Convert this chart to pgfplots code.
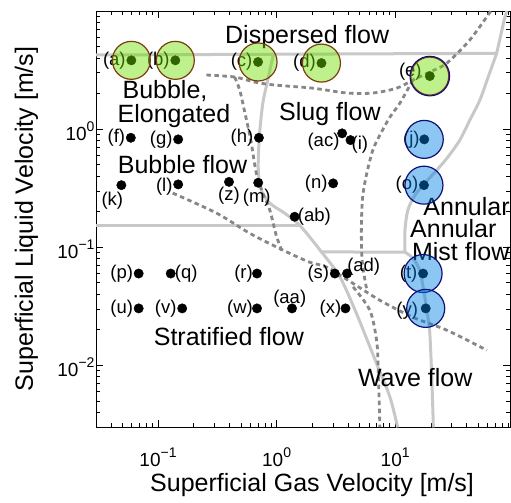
\documentclass[border=0pt]{standalone}
\usepackage{fontspec}
\setmainfont{Liberation Sans}
\usepackage{pgfplots}
\pgfplotsset{compat=1.18}
\definecolor{solidgray}{RGB}{200,200,200}
\definecolor{dashgray}{RGB}{135,135,135}
\definecolor{gfill}{rgb}{0.433,0.869,0.0}
\definecolor{bfill}{rgb}{0.0,0.5,0.9}
\definecolor{brownedge}{RGB}{125,60,15}
\definecolor{navyedge}{RGB}{15,15,120}
\newcommand\tsup[1]{\raisebox{9bp}{\fontsize{14bp}{16bp}\selectfont #1}}
\tikzset{
  lab/.style={font=\fontsize{18.5bp}{22bp}\selectfont, inner sep=0pt},
  L/.style={lab, anchor=east, xshift=-5.5bp},
  R/.style={lab, anchor=west, xshift=3bp},
  ann/.style={font=\fontsize{25bp}{30bp}\selectfont, inner sep=0pt, anchor=center},
  sol/.style={solidgray, line width=3bp},
  dsh/.style={dashgray, line width=2.8bp, dash pattern=on 4.5bp off 3.5bp},
}
\begin{document}
\begin{tikzpicture}[x=1bp,y=1bp]
\begin{axis}[
  at={(96bp,76bp)}, anchor=south west,
  scale only axis, width=414bp, height=416bp,
  xmode=log, ymode=log,
  xmin=0.03, xmax=93, ymin=0.003, ymax=10,
  clip mode=individual,
  xtick={0.1,1,10},
  xticklabels={{10\tsup{−1}},{10\tsup{0}},{10\tsup{1}}},
  ytick={0.01,0.1,1},
  yticklabels={{10\tsup{−2}},{10\tsup{−1}},{10\tsup{0}}},
  minor xtick={0.04,0.05,0.06,0.07,0.08,0.09,0.2,0.3,0.4,0.5,0.6,0.7,0.8,0.9,2,3,4,5,6,7,8,9,20,30,40,50,60,70,80,90},
  minor ytick={0.004,0.005,0.006,0.007,0.008,0.009,0.02,0.03,0.04,0.05,0.06,0.07,0.08,0.09,0.2,0.3,0.4,0.5,0.6,0.7,0.8,0.9,2,3,4,5,6,7,8,9},
  major tick length=7bp, minor tick length=4bp,
  tick style={black, line width=0.6bp},
  axis line style={black, line width=0.8bp},
  tick label style={font=\fontsize{19bp}{22bp}\selectfont},
  xticklabel style={yshift=-17bp},
  yticklabel style={xshift=2bp, yshift=-2bp},
  xlabel={Superficial Gas Velocity [m/s]},
  ylabel={Superficial Liquid Velocity [m/s]},
  xlabel style={at={(axis description cs:0.522,-0.140)}, anchor=center, font=\fontsize{25bp}{30bp}\selectfont},
  ylabel style={at={(axis description cs:-0.168,0.5)}, anchor=center, font=\fontsize{25bp}{30bp}\selectfont},
]
% solid boundaries
\addplot[sol, no marks] coordinates {(0.03,4.24) (71.8,4.38) (84.3,8.95) (87.7,10)};
\addplot[sol, no marks, smooth, tension=0.5] coordinates {(71.8,4.38) (60.5,2.71) (51.8,1.76) (42.6,1.19) (35.1,0.807) (27.8,0.579) (22.5,0.450) (17.8,0.349) (14.7,0.276) (12.8,0.206) (12.1,0.139) (12.1,0.0907)};
\addplot[sol, no marks] coordinates {(12.1,0.0907) (2.32,0.0912)};
\addplot[sol, no marks, smooth, tension=0.5] coordinates {(0.937,4.24) (0.843,2.60) (0.766,1.66) (0.715,0.855) (0.701,0.450) (0.743,0.304) (0.877,0.236) (1.17,0.194) (1.57,0.153) (2.39,0.0912) (3.42,0.0560) (4.72,0.0274) (6.97,0.01034) (9.03,0.00539) (10.5,0.00298)};
\addplot[sol, no marks] coordinates {(0.03,0.153) (1.57,0.153)};
\addplot[sol, no marks, smooth, tension=0.5] coordinates {(12.1,0.0907) (14.1,0.0807) (16.1,0.0638) (17.4,0.0432) (18.8,0.0265) (19.6,0.0187) (20.4,0.00746) (21.0,0.00298)};
% dashed boundaries
\addplot[dsh, no marks, smooth, tension=0.5] coordinates {(0.256,2.87) (0.443,2.76) (0.654,2.50) (0.966,2.36) (2.02,2.22) (3.91,2.02) (6.47,2.02) (10.3,2.22) (14.1,2.60) (19.6,3.04) (27.3,3.62) (42.6,5.68) (64.1,10)};
\addplot[dsh, no marks, smooth, tension=0.5] coordinates {(0.443,2.76) (0.489,2.14) (0.539,1.39) (0.606,0.807) (0.674,0.424) (0.766,0.287) (0.877,0.206) (0.998,0.124) (1.13,0.0889)};
\addplot[dsh, no marks, smooth, tension=0.5] coordinates {(0.133,0.287) (0.313,0.194) (0.594,0.131) (1.13,0.0944) (1.90,0.0746) (2.65,0.0677) (4.39,0.0495) (7.43,0.0355) (14.1,0.0255) (27.3,0.0198) (59.4,0.0134)};
\addplot[dsh, no marks, smooth, tension=0.5] coordinates {(14.1,2.60) (10.97,1.66) (9.02,1.26) (7.43,0.889) (6.48,0.664) (5.77,0.424) (5.34,0.276) (5.20,0.170) (5.20,0.100) (5.34,0.0677) (5.77,0.0432)};
\addplot[dsh, no marks, smooth, tension=0.5] coordinates {(4.42,0.0461) (6.12,0.0292) (6.97,0.0163) (7.19,0.00968) (7.43,0.00300)};
% data points
\addplot[only marks, mark=*, mark size=4.7bp, black] coordinates {
(0.0596,3.82) (0.140,3.82) (0.698,3.70) (2.39,3.62) (19.6,2.81)
(0.059,0.844) (0.148,0.818) (0.71,0.844) (4.20,0.807) (3.57,0.920) (17.6,0.818)
(0.0491,0.335) (0.148,0.340) (0.397,0.357) (0.70,0.351) (3.0,0.347) (17.5,0.335)
(1.42,0.181)
(0.0687,0.0598) (0.128,0.0598) (0.684,0.0598) (3.10,0.0598) (3.93,0.0598) (17.2,0.0598)
(0.0687,0.0303) (0.160,0.0303) (0.684,0.0303) (1.35,0.0303) (3.81,0.0303) (18.1,0.0303)};
% point labels
\node[L] at (axis cs:0.0596,3.82) {(a)};
\node[L] at (axis cs:0.140,3.82) {(b)};
\node[L] at (axis cs:0.698,3.70) {(c)};
\node[L] at (axis cs:2.39,3.62) {(d)};
\node[L, xshift=-2.5bp, yshift=4bp] at (axis cs:19.6,2.81) {(e)};
\node[L] at (axis cs:0.059,0.844) {(f)};
\node[L] at (axis cs:0.148,0.818) {(g)};
\node[L] at (axis cs:0.71,0.844) {(h)};
\node[R, xshift=-2bp, yshift=-5bp] at (axis cs:4.20,0.807) {(i)};
\node[L, xshift=3bp, yshift=-8bp] at (axis cs:3.57,0.920) {(ac)};
\node[L, xshift=1bp] at (axis cs:17.6,0.818) {(j)};
\node[lab, xshift=-9bp, yshift=-15.5bp] at (axis cs:0.0491,0.335) {(k)};
\node[L, yshift=-2bp] at (axis cs:0.148,0.340) {(l)};
\node[lab, yshift=-14bp] at (axis cs:0.397,0.357) {(z)};
\node[lab, xshift=-1.5bp, yshift=-15bp] at (axis cs:0.70,0.351) {(m)};
\node[L] at (axis cs:3.0,0.347) {(n)};
\node[L] at (axis cs:17.5,0.335) {(o)};
\node[R] at (axis cs:1.42,0.181) {(ab)};
\node[L] at (axis cs:0.0687,0.0598) {(p)};
\node[R, xshift=1bp] at (axis cs:0.128,0.0598) {(q)};
\node[L, xshift=1.5bp] at (axis cs:0.684,0.0598) {(r)};
\node[L] at (axis cs:3.10,0.0598) {(s)};
\node[R, xshift=-3bp, yshift=7bp] at (axis cs:3.93,0.0598) {(ad)};
\node[L] at (axis cs:17.2,0.0598) {(t)};
\node[L] at (axis cs:0.0687,0.0303) {(u)};
\node[L] at (axis cs:0.160,0.0303) {(v)};
\node[L, xshift=1.5bp] at (axis cs:0.684,0.0303) {(w)};
\node[lab, xshift=-2.3bp, yshift=10bp] at (axis cs:1.35,0.0303) {(aa)};
\node[L, xshift=1.5bp] at (axis cs:3.81,0.0303) {(x)};
\node[L, xshift=-2bp, yshift=-2bp] at (axis cs:18.1,0.0303) {(y)};
% regime names
\node[ann] at (rel axis cs:0.510,0.9375) {Dispersed flow};
\node[ann] at (rel axis cs:0.1667,0.8065) {Bubble,};
\node[ann] at (rel axis cs:0.1884,0.7476) {Elongated};
\node[ann] at (rel axis cs:0.209,0.632) {Bubble flow};
\node[ann] at (rel axis cs:0.565,0.752) {Slug flow};
\node[ann] at (rel axis cs:0.321,0.217) {Stratified flow};
\node[ann] at (rel axis cs:0.895,0.531) {Annular};
\node[ann] at (rel axis cs:0.863,0.476) {Annular};
\node[ann] at (rel axis cs:0.881,0.421) {Mist flow};
\node[ann] at (rel axis cs:0.771,0.120) {Wave flow};
% highlighted cases
\addplot[only marks, mark=*, mark size=19bp, mark options={fill=gfill, fill opacity=0.45, draw=brownedge, line width=1.2bp}] coordinates {(0.0596,3.82) (0.140,3.82) (0.698,3.70) (2.39,3.62) (19.6,2.81)};
\addplot[only marks, mark=o, mark size=19.8bp, mark options={draw=navyedge, line width=1.1bp}] coordinates {(19.6,2.81)};
\addplot[only marks, mark=*, mark size=19bp, mark options={fill=bfill, fill opacity=0.45, draw=navyedge, line width=1.2bp}] coordinates {(17.6,0.818) (17.5,0.335) (17.2,0.0598) (18.1,0.0303)};
\end{axis}
\pgfresetboundingbox
\path[use as bounding box] (0,0) rectangle (511,503);
\end{tikzpicture}
\end{document}
